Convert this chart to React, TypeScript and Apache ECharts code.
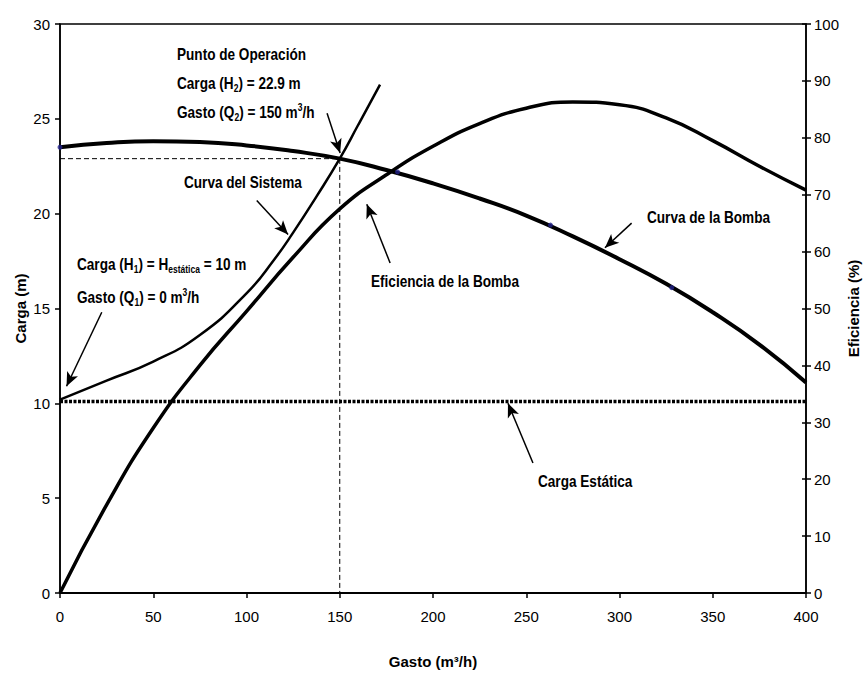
import React, { useEffect, useRef } from "react";
import * as echarts from "echarts";

// Gasto (m3/h) sample points for the pump and efficiency curves
const Q_PUMP = [0, 25, 50, 75, 100, 125, 150, 175, 200, 225, 250, 275, 300, 325, 350, 375, 400];
// Curva de la Bomba: Carga (m)
const H_PUMP = [23.5, 23.72, 23.82, 23.78, 23.6, 23.3, 22.9, 22.3, 21.6, 20.8, 19.9, 18.8, 17.6, 16.3, 14.8, 13.1, 11.1];
// Eficiencia de la Bomba (%)
const EFF = [0, 15.5, 29, 40, 49.5, 59, 67.5, 73.5, 78.5, 82.5, 85.2, 86.3, 85.8, 83.5, 79.5, 75, 70.8];
// Curva del Sistema
const Q_SYS = [0, 25, 50, 75, 100, 115, 125, 137.5, 150, 160, 171.6];
const H_SYS = [10.2, 11.2, 12.2, 13.6, 15.8, 17.6, 19.0, 20.9, 22.9, 24.7, 26.8];
// Carga Estática
const Q_STATIC = [0, 400];
const H_STATIC = [10.1, 10.1];
// Punto de Operación
const OP_Q = 150;
const OP_H = 22.9;
// Marked measurement points on the pump curve
const MARK_Q = [0, 181, 263, 328];
const MARK_H = [23.5, 22.2, 19.4, 16.1];

// Axis ticks
const X_MIN = 0, X_MAX = 400, X_STEP = 50;
const Y_MIN = 0, Y_MAX = 30, Y_STEP = 5;
const E_MIN = 0, E_MAX = 100, E_STEP = 10;

// Annotation arrows: [fromQ, fromH, toQ, toH]
const ARROWS = [
  [143.2, 25.3, 150.2, 23.2],
  [105.5, 20.7, 122.3, 18.9],
  [22.4, 14.8, 3.5, 10.9],
  [177, 17.4, 164.5, 20.5],
  [306.5, 19.5, 292.2, 18.2],
  [253.6, 6.85, 240.2, 10.0],
];

const FONT = "'Liberation Sans', Arial, sans-serif";
const NARROW = 0.85;

const zip = (a: number[], b: number[]) => a.map((v, i) => [v, b[i]]);

export default function App() {
  const ref = useRef<HTMLDivElement>(null);
  useEffect(() => {
    if (!ref.current) return;
    const chart = echarts.init(ref.current, null, { renderer: "svg" });
    const base = { fontFamily: FONT, fontSize: 16, fontWeight: "bold" as const, fill: "#000" };
    const rich = {
      a: { fontFamily: FONT, fontSize: 16, fontWeight: "bold", color: "#000", lineHeight: 20 },
      s: { fontFamily: FONT, fontSize: 10, fontWeight: "bold", color: "#000", lineHeight: 12, verticalAlign: "bottom" },
      u: { fontFamily: FONT, fontSize: 10, fontWeight: "bold", color: "#000", lineHeight: 12, verticalAlign: "top" },
    };
    const txt = (x: number, y: number, text: string) => ({
      type: "text",
      x,
      y,
      scaleX: NARROW,
      silent: true,
      style: { ...base, text, rich, verticalAlign: "middle" },
    });
    const axisName = { fontFamily: FONT, fontSize: 15, fontWeight: "bold", color: "#000" };
    const tickLabel = { fontFamily: FONT, fontSize: 15, color: "#000" };
    const option: any = {
      animation: false,
      backgroundColor: "#fff",
      grid: {
        left: 60,
        right: 58,
        top: 24,
        bottom: 84,
        containLabel: false,
        outerBoundsMode: "none",
        show: true,
        borderColor: "#000",
        borderWidth: 1.5,
      },
      xAxis: {
        type: "value",
        min: X_MIN,
        max: X_MAX,
        interval: X_STEP,
        name: "Gasto (m³/h)",
        nameLocation: "middle",
        nameMoveOverlap: false,
        nameGap: 61,
        nameTextStyle: axisName,
        axisLine: { lineStyle: { color: "#000", width: 2 } },
        axisTick: { show: true, length: 5, lineStyle: { color: "#000", width: 1.5 } },
        axisLabel: { ...tickLabel, margin: 16 },
        splitLine: { show: false },
      },
      yAxis: [
        {
          type: "value",
          min: Y_MIN,
          max: Y_MAX,
          interval: Y_STEP,
          name: "Carga (m)",
          nameLocation: "middle",
          nameMoveOverlap: false,
          nameRotate: 90,
          nameGap: 32,
          nameTextStyle: axisName,
          axisLine: { show: true, lineStyle: { color: "#000", width: 1.5 } },
          axisTick: { show: true, length: 5, lineStyle: { color: "#000", width: 1.5 } },
          axisLabel: { ...tickLabel, margin: 10 },
          splitLine: { show: false },
        },
        {
          type: "value",
          min: E_MIN,
          max: E_MAX,
          interval: E_STEP,
          position: "right",
          name: "Eficiencia (%)",
          nameLocation: "middle",
          nameMoveOverlap: false,
          nameRotate: 90,
          nameGap: 40,
          nameTextStyle: axisName,
          axisLine: { show: true, lineStyle: { color: "#000", width: 1.5 } },
          axisTick: { show: true, length: 5, lineStyle: { color: "#000", width: 1.5 } },
          axisLabel: { ...tickLabel, margin: 8 },
          splitLine: { show: false },
        },
        {
          type: "value",
          min: E_MIN,
          max: E_MAX,
          interval: E_STEP,
          position: "right",
          axisLine: { show: false },
          axisTick: { show: true, inside: true, length: 4, lineStyle: { color: "#000", width: 1.5 } },
          axisLabel: { show: false },
          splitLine: { show: false },
        },
      ],
      series: [
        {
          name: "Curva de la Bomba",
          type: "line",
          smooth: true,
          showSymbol: false,
          silent: true,
          data: zip(Q_PUMP, H_PUMP),
          lineStyle: { color: "#000", width: 4 },
        },
        {
          name: "Eficiencia de la Bomba",
          type: "line",
          yAxisIndex: 1,
          smooth: true,
          showSymbol: false,
          silent: true,
          data: zip(Q_PUMP, EFF),
          lineStyle: { color: "#000", width: 3.5 },
        },
        {
          name: "Curva del Sistema",
          type: "line",
          smooth: true,
          showSymbol: false,
          silent: true,
          data: zip(Q_SYS, H_SYS),
          lineStyle: { color: "#000", width: 2.5 },
        },
        {
          name: "Carga Estática",
          type: "line",
          showSymbol: false,
          silent: true,
          data: zip(Q_STATIC, H_STATIC),
          lineStyle: { color: "#000", width: 3.5, type: [3, 1.5] },
          markLine: {
            silent: true,
            animation: false,
            label: { show: false },
            lineStyle: { color: "#000", width: 1.5, type: "solid" },
            data: ARROWS.map(([x1, y1, x2, y2]) => [
              { coord: [x1, y1], symbol: "none" },
              { coord: [x2, y2], symbol: "arrow", symbolSize: [9, 14] },
            ]),
          },
        },
        {
          name: "Punto de Operación",
          type: "line",
          showSymbol: false,
          silent: true,
          data: [[X_MIN, OP_H], [OP_Q, OP_H], [OP_Q, Y_MIN]],
          lineStyle: { color: "#000", width: 1, type: [5, 3] },
        },
        {
          name: "Puntos",
          type: "scatter",
          silent: true,
          symbolSize: 5,
          data: zip(MARK_Q, MARK_H),
          itemStyle: { color: "#22228a" },
          z: 5,
        },
      ],
      graphic: [
        txt(177, 55, "{a|Punto de Operación}"),
        txt(177, 84, "{a|Carga (H}{s|2}{a|) = 22.9 m}"),
        txt(177, 113, "{a|Gasto (Q}{s|2}{a|) = 150 m}{u|3}{a|/h}"),
        txt(184, 183, "{a|Curva del Sistema}"),
        txt(77, 265, "{a|Carga (H}{s|1}{a|) = H}{s|estática}{a| = 10 m}"),
        txt(77, 298, "{a|Gasto (Q}{s|1}{a|) = 0 m}{u|3}{a|/h}"),
        txt(371, 282, "{a|Eficiencia de la Bomba}"),
        txt(647, 218, "{a|Curva de la Bomba}"),
        txt(538, 482, "{a|Carga Estática}"),
      ],
    };
    chart.setOption(option);
    return () => chart.dispose();
  }, []);
  return (
    <div
      ref={ref}
      style={{ position: "absolute", left: 0, top: 0, width: 864, height: 677 }}
    />
  );
}
